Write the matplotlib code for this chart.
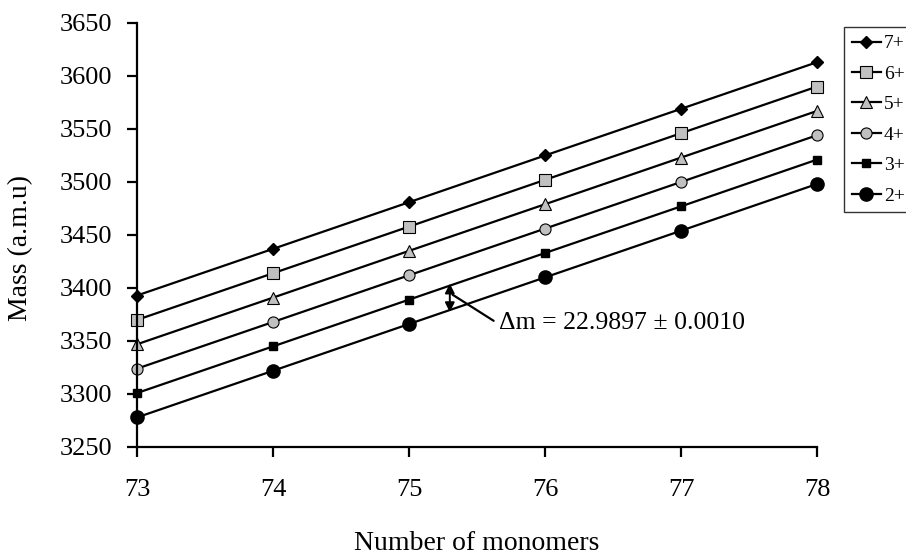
import matplotlib
matplotlib.use("Agg")
import matplotlib.pyplot as plt

plt.rcParams['font.family'] = ['Liberation Serif', 'DejaVu Serif']

monomers = [73, 74, 75, 76, 77, 78]
mass_7 = [3392.9, 3436.9, 3480.9, 3525.0, 3569.0, 3613.0]
mass_6 = [3369.9, 3413.9, 3457.9, 3502.0, 3546.0, 3590.0]
mass_5 = [3346.9, 3390.9, 3435.0, 3479.0, 3523.0, 3567.0]
mass_4 = [3323.9, 3367.9, 3412.0, 3456.0, 3500.0, 3544.1]
mass_3 = [3300.9, 3344.9, 3389.0, 3433.0, 3477.0, 3521.1]
mass_2 = [3277.9, 3321.9, 3366.0, 3410.0, 3454.0, 3498.1]
labels = ['7+', '6+', '5+', '4+', '3+', '2+']
delta_text = 'Δm = 22.9897 ± 0.0010'

fig = plt.figure(figsize=(9.06, 5.55), dpi=100)
ax = fig.add_axes([0.1512, 0.1946, 0.7506, 0.764])

grey = '#c0c0c0'
styles = [
    dict(marker='D', ms=6.5, mfc='black', mec='black'),
    dict(marker='s', ms=8.5, mfc=grey, mec='black', mew=0.8),
    dict(marker='^', ms=8.5, mfc=grey, mec='black', mew=0.8),
    dict(marker='o', ms=8, mfc=grey, mec='black', mew=0.8),
    dict(marker='s', ms=6, mfc='black', mec='black'),
    dict(marker='o', ms=9.5, mfc='black', mec='black'),
]
series = [mass_7, mass_6, mass_5, mass_4, mass_3, mass_2]
for y, lab, st in zip(series, labels, styles):
    ax.plot(monomers, y, color='black', lw=1.6, label=lab, clip_on=False, **st)

ax.set_xlim(73, 78)
ax.set_ylim(3250, 3650)
ax.set_xticks(monomers)
ax.set_yticks(range(3250, 3651, 50))
for s in ['top', 'right']:
    ax.spines[s].set_visible(False)
for s in ['left', 'bottom']:
    ax.spines[s].set_linewidth(1.6)
ax.tick_params(direction='out', length=7, width=1.6, labelsize=19)
ax.tick_params(axis='x', pad=16)
ax.tick_params(axis='y', pad=11)
ax.set_xlabel('Number of monomers', fontsize=20)
ax.set_ylabel('Mass (a.m.u)', fontsize=20)
ax.xaxis.set_label_coords(0.5, -0.197)
ax.yaxis.set_label_coords(-0.153, 0.47)

# double-headed arrow spanning the gap between the 2+ and 3+ lines
xa = 75.3
y_lo = mass_2[2] + (mass_2[3] - mass_2[2]) * 0.3
y_hi = mass_3[2] + (mass_3[3] - mass_3[2]) * 0.3
ax.annotate('', xy=(xa, y_hi + 2), xytext=(xa, y_lo - 2),
            arrowprops=dict(arrowstyle='<|-|>', color='black', lw=1.4,
                            mutation_scale=14, shrinkA=0, shrinkB=0))
ax.annotate(delta_text, xy=(xa + 0.02, (y_lo + y_hi) / 2 + 3), xytext=(75.66, 3367),
            fontsize=18.5, va='center', ha='left',
            arrowprops=dict(arrowstyle='-', color='black', lw=1.6,
                            relpos=(0, 0.45), shrinkA=2, shrinkB=0))

leg = fig.legend(loc='upper left', bbox_to_anchor=(0.9316, 0.9514),
                 fontsize=14, frameon=True, fancybox=False, edgecolor='black',
                 handlelength=1.5, handletextpad=0.15, labelspacing=0.66,
                 borderpad=0.4, borderaxespad=0)
leg.get_frame().set_linewidth(1.0)

fig.savefig('out.png', dpi=100)
